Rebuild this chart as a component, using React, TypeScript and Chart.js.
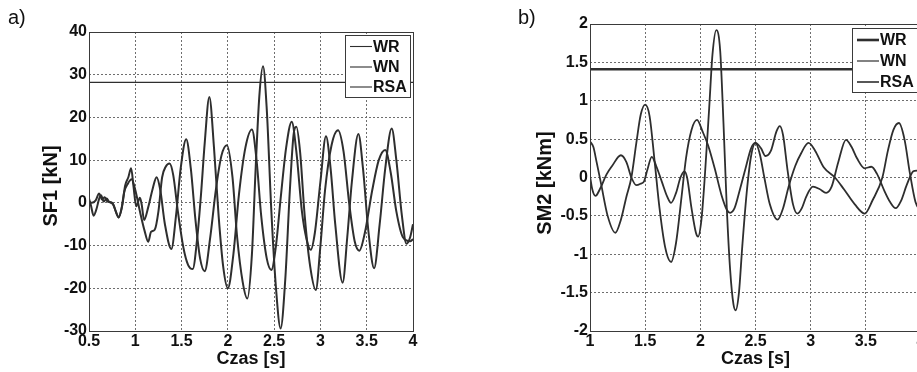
import React, { useEffect, useRef } from "react";
import { Chart, registerables } from "chart.js";

Chart.register(...registerables);

const FONT = 'Arial, "Liberation Sans", Helvetica, sans-serif';
const LINE = "#2e2e2e";

const legendLabels = ["WR", "WN", "RSA"];

// ---------- Panel a) SF1 [kN] ----------
const timeTicksA = [0.5, 1, 1.5, 2, 2.5, 3, 3.5, 4];
const sf1Ticks = [-30, -20, -10, 0, 10, 20, 30, 40];
const sf1WrTime = [0.5, 0.53, 0.57, 0.61, 0.64, 0.67, 0.7, 0.75, 0.79, 0.82, 0.85, 0.88, 0.92, 0.96, 1.0, 1.05, 1.1, 1.14, 1.17, 1.21, 1.25, 1.29, 1.33, 1.37, 1.41, 1.46, 1.52, 1.57, 1.62, 1.67, 1.71, 1.75, 1.8, 1.85, 1.9, 1.95, 2.0, 2.06, 2.12, 2.19, 2.26, 2.31, 2.36, 2.42, 2.47, 2.52, 2.57, 2.63, 2.69, 2.74, 2.8, 2.85, 2.895, 2.94, 3.0, 3.06, 3.11, 3.16, 3.24, 3.29, 3.34, 3.41, 3.46, 3.52, 3.58, 3.64, 3.7, 3.77, 3.82, 3.88, 3.93, 3.97, 4.0];
const sf1WrValue = [0.3, 0, 0.5, 2.2, 0.8, 1.3, 0.3, 0, -2, -3.4, -1.5, 2.5, 4.5, 5.5, 3, -2, -6.5, -9.1, -6.8, -6.3, -2, 6, 8.5, 9.2, 6.5, -2, -10.5, -14.5, -15.5, -8, 2, 14, 24.8, 13, -3, -15, -20, -12, 2, 13, 17.2, 10, -3, -13, -15.7, -10, 1, 13, 19, 12, -2, -8.5, -11, -7, 5, 15.6, 8, -5, -18.7, -8, 5, 16.1, 8, -7, -15.3, -5, 8, 17.4, 10, -3, -9.6, -8, -5];
const sf1WnTime = [0.5, 0.52, 0.55, 0.58, 0.61, 0.63, 0.66, 0.69, 0.72, 0.76, 0.82, 0.86, 0.89, 0.925, 0.955, 0.98, 1.01, 1.05, 1.07, 1.095, 1.14, 1.19, 1.23, 1.27, 1.32, 1.39, 1.44, 1.49, 1.55, 1.6, 1.65, 1.7, 1.75, 1.81, 1.87, 1.93, 1.99, 2.05, 2.1, 2.16, 2.21, 2.26, 2.3, 2.34, 2.38, 2.42, 2.47, 2.52, 2.57, 2.62, 2.67, 2.71, 2.74, 2.78, 2.83, 2.89, 2.95, 3.0, 3.05, 3.12, 3.19, 3.25, 3.31, 3.37, 3.42, 3.48, 3.56, 3.63, 3.7, 3.76, 3.82, 3.89, 3.97, 4.0];
const sf1WnValue = [1, -0.5, -3, -1.5, 1, 1.8, 0.3, 1, 0.2, -0.3, -3.4, -0.5, 4, 6, 8.1, 4, -0.8, 1.2, -0.5, -4, -1, 3.5, 6, 3, -5, -10.8, -3, 8, 14.9, 8, -4, -13, -16, -8, 3, 11, 13.5, 6, -8, -18.5, -22.4, -12, 8, 25, 32, 22, -2, -20, -29.4, -18, 3, 16, 17.8, 12, -3, -15, -20.4, -10, 3, 13.5, 17, 12, 0, -9, -11.2, -7, 3, 10, 12.4, 7, -2, -8, -9, -8.5];
const sf1RsaTime = [0.5, 4];
const sf1RsaValue = [28.2, 28.2];

// ---------- Panel b) SM2 [kNm] ----------
const timeTicksB = [1, 1.5, 2, 2.5, 3, 3.5, 4];
const sm2Ticks = [-2, -1.5, -1, -0.5, 0, 0.5, 1, 1.5, 2];
const sm2WrTime = [1, 1.03, 1.06, 1.1, 1.16, 1.23, 1.28, 1.33, 1.375, 1.42, 1.46, 1.5, 1.54, 1.585, 1.63, 1.68, 1.735, 1.78, 1.83, 1.87, 1.92, 1.97, 2.02, 2.07, 2.13, 2.19, 2.24, 2.27, 2.31, 2.36, 2.41, 2.46, 2.5, 2.55, 2.59, 2.64, 2.69, 2.72, 2.75, 2.79, 2.84, 2.88, 2.92, 2.96, 3.02, 3.08, 3.14, 3.19, 3.25, 3.32, 3.37, 3.42, 3.49, 3.55, 3.6, 3.67, 3.72, 3.77, 3.82, 3.87, 3.93, 3.96, 4.0];
const sm2WrValue = [0.47, 0.4, 0.2, -0.08, -0.5, -0.72, -0.55, -0.25, 0, 0.45, 0.82, 0.95, 0.8, 0.22, -0.4, -0.9, -1.1, -0.85, -0.25, 0.25, 0.62, 0.75, 0.6, 0.42, 0.12, -0.22, -0.42, -0.46, -0.4, -0.15, 0.12, 0.38, 0.45, 0.38, 0.28, 0.35, 0.6, 0.67, 0.55, 0.1, -0.35, -0.47, -0.4, -0.25, -0.12, -0.15, -0.2, -0.12, 0.2, 0.49, 0.4, 0.25, 0.12, 0.14, 0.05, -0.18, -0.32, -0.4, -0.3, -0.1, 0.08, 0.09, 0.05];
const sm2WnTime = [1, 1.02, 1.05, 1.09, 1.15, 1.2, 1.28, 1.33, 1.375, 1.42, 1.46, 1.49, 1.52, 1.56, 1.6, 1.65, 1.7, 1.735, 1.78, 1.82, 1.855, 1.88, 1.92, 1.96, 1.98, 2.01, 2.04, 2.08, 2.11, 2.145, 2.18, 2.21, 2.24, 2.27, 2.3, 2.32, 2.35, 2.38, 2.42, 2.46, 2.5, 2.54, 2.58, 2.63, 2.7, 2.75, 2.8, 2.86, 2.915, 2.98, 3.04, 3.12, 3.22, 3.3, 3.4, 3.49, 3.56, 3.65, 3.7, 3.75, 3.8, 3.85, 3.9, 3.95, 4.0];
const sm2WnValue = [0.02, -0.15, -0.24, -0.15, 0.04, 0.15, 0.29, 0.2, 0, -0.1, -0.08, -0.05, 0.1, 0.27, 0.15, -0.05, -0.25, -0.33, -0.2, 0, 0.08, 0, -0.4, -0.72, -0.77, -0.55, 0, 0.9, 1.6, 1.92, 1.65, 0.7, -0.4, -1.2, -1.65, -1.73, -1.5, -0.9, -0.2, 0.28, 0.45, 0.3, 0, -0.35, -0.55, -0.4, -0.12, 0.15, 0.32, 0.45, 0.35, 0.13, 0, -0.15, -0.35, -0.47, -0.3, 0, 0.35, 0.62, 0.71, 0.5, 0.05, -0.32, -0.45];
const sm2RsaTime = [1, 4];
const sm2RsaValue = [1.41, 1.41];

const pts = (t: number[], v: number[]) => t.map((x, i) => ({ x, y: v[i] }));

type LegendCfg = { w: number; h: number; right: number; top: number; rows: number[]; widths: number[] };
type PanelCfg = {
  xTitle: string;
  yTitle: string;
  xTitleY: number;
  yTitleX: number;
  yTitleY: number;
  legend: LegendCfg;
};

function overlayPlugin(p: PanelCfg) {
  return {
    id: "matlabOverlay",
    afterDatasetsDraw(chart: any) {
      const { ctx, chartArea } = chart;
      const left = Math.round(chartArea.left);
      const top = Math.round(chartArea.top);
      const right = Math.round(chartArea.right);
      const bottom = Math.round(chartArea.bottom);
      ctx.save();
      ctx.setLineDash([]);
      ctx.strokeStyle = "#3a3a3a";
      ctx.lineWidth = 1;
      ctx.strokeRect(left + 0.5, top + 0.5, right - left, bottom - top);

      const L = p.legend;
      const bx = right - L.right - L.w;
      const by = top + L.top;
      ctx.fillStyle = "#ffffff";
      ctx.fillRect(bx, by, L.w, L.h);
      ctx.strokeStyle = "#3a3a3a";
      ctx.lineWidth = 1;
      ctx.strokeRect(bx + 0.5, by + 0.5, L.w, L.h);
      ctx.font = `bold 16px ${FONT}`;
      ctx.textBaseline = "middle";
      ctx.textAlign = "left";
      legendLabels.forEach((label, i) => {
        const y = by + L.rows[i];
        ctx.strokeStyle = LINE;
        ctx.lineWidth = L.widths[i];
        ctx.beginPath();
        ctx.moveTo(bx + 5, y);
        ctx.lineTo(bx + 27, y);
        ctx.stroke();
        ctx.fillStyle = "#111";
        ctx.fillText(label, bx + 28, y + 1);
      });

      ctx.fillStyle = "#111";
      ctx.font = `bold 18px ${FONT}`;
      ctx.textAlign = "center";
      ctx.textBaseline = "middle";
      ctx.fillText(p.xTitle, (chartArea.left + chartArea.right) / 2, p.xTitleY);

      ctx.font = `bold 20px ${FONT}`;
      ctx.translate(p.yTitleX, p.yTitleY);
      ctx.rotate(-Math.PI / 2);
      ctx.fillText(p.yTitle, 0, 0);
      ctx.restore();
    },
  };
}

function makeChart(
  canvas: HTMLCanvasElement,
  opts: {
    datasets: any[];
    xMin: number;
    xMax: number;
    yMin: number;
    yMax: number;
    xTicks: number[];
    yTicks: number[];
    padTop: number;
    padRight: number;
    yWidth: number;
    xHeight: number;
    panel: PanelCfg;
  }
) {
  const tickFont = { family: FONT, size: 16, weight: "bold" as const };
  const grid = { color: "#6e6e6e", lineWidth: 1, drawTicks: false };
  return new Chart(canvas, {
    type: "line",
    data: { datasets: opts.datasets },
    options: {
      responsive: false,
      animation: false,
      maintainAspectRatio: false,
      layout: { padding: { top: opts.padTop, right: opts.padRight, left: 0, bottom: 0 } },
      plugins: { legend: { display: false }, tooltip: { enabled: false } },
      elements: { point: { radius: 0 } },
      scales: {
        x: {
          type: "linear",
          min: opts.xMin,
          max: opts.xMax,
          grid,
          border: { display: false, dash: [2, 2] },
          afterBuildTicks: (axis: any) => {
            axis.ticks = opts.xTicks.map((value) => ({ value }));
          },
          afterFit: (axis: any) => {
            axis.height = opts.xHeight;
          },
          ticks: {
            color: "#111",
            font: tickFont,
            padding: 1,
            maxRotation: 0,
            autoSkip: false,
            callback: (v: any) => String(v),
          },
        },
        y: {
          type: "linear",
          min: opts.yMin,
          max: opts.yMax,
          grid,
          border: { display: false, dash: [2, 2] },
          afterBuildTicks: (axis: any) => {
            axis.ticks = opts.yTicks.map((value) => ({ value }));
          },
          afterFit: (axis: any) => {
            axis.width = opts.yWidth;
          },
          ticks: {
            color: "#111",
            font: tickFont,
            padding: 2,
            autoSkip: false,
            callback: (v: any) => String(v),
          },
        },
      },
    },
    plugins: [overlayPlugin(opts.panel)],
  } as any);
}

const curve = (label: string, t: number[], v: number[], width: number) => ({
  label,
  data: pts(t, v),
  borderColor: LINE,
  borderWidth: width,
  pointRadius: 0,
  fill: false,
  cubicInterpolationMode: "monotone",
});

export default function App() {
  const refA = useRef<HTMLCanvasElement | null>(null);
  const refB = useRef<HTMLCanvasElement | null>(null);

  useEffect(() => {
    const chartA = makeChart(refA.current!, {
      datasets: [
        curve(legendLabels[0], sf1WrTime, sf1WrValue, 2),
        curve(legendLabels[1], sf1WnTime, sf1WnValue, 2),
        curve(legendLabels[2], sf1RsaTime, sf1RsaValue, 1.3),
      ],
      xMin: 0.5,
      xMax: 4,
      yMin: -30,
      yMax: 40,
      xTicks: timeTicksA,
      yTicks: sf1Ticks,
      padTop: 32,
      padRight: 17,
      yWidth: 89,
      xHeight: 41,
      panel: {
        xTitle: "Czas [s]",
        yTitle: "SF1 [kN]",
        xTitleY: 359,
        yTitleX: 51,
        yTitleY: 186,
        legend: { w: 65, h: 62, right: 3, top: 3, rows: [11.5, 32, 52], widths: [1.1, 1.1, 1.1] },
      },
    });
    const chartB = makeChart(refB.current!, {
      datasets: [
        curve(legendLabels[0], sm2WrTime, sm2WrValue, 1.8),
        curve(legendLabels[1], sm2WnTime, sm2WnValue, 1.8),
        curve(legendLabels[2], sm2RsaTime, sm2RsaValue, 2.6),
      ],
      xMin: 1,
      xMax: 4,
      yMin: -2,
      yMax: 2,
      xTicks: timeTicksB,
      yTicks: sm2Ticks,
      padTop: 24,
      padRight: 9,
      yWidth: 90,
      xHeight: 41,
      panel: {
        xTitle: "Czas [s]",
        yTitle: "SM2 [kNm]",
        xTitleY: 359,
        yTitleX: 45,
        yTitleY: 183,
        legend: { w: 66, h: 64, right: 3, top: 4, rows: [12, 33, 54], widths: [2.6, 1.2, 1.6] },
      },
    });
    return () => {
      chartA.destroy();
      chartB.destroy();
    };
  }, []);

  const label: React.CSSProperties = {
    position: "absolute",
    fontFamily: FONT,
    fontSize: 20,
    lineHeight: "20px",
    color: "#111",
  };

  return (
    <div
      style={{
        position: "fixed",
        left: 0,
        top: 0,
        width: 917,
        height: 372,
        overflow: "hidden",
        background: "#fff",
      }}
    >
      <canvas ref={refA} width={430} height={372} style={{ position: "absolute", left: 0, top: 0, width: 430, height: 372 }} />
      <canvas ref={refB} width={430} height={372} style={{ position: "absolute", left: 500, top: 0, width: 430, height: 372 }} />
      <div style={{ ...label, left: 8, top: 7 }}>a)</div>
      <div style={{ ...label, left: 518, top: 7 }}>b)</div>
    </div>
  );
}
